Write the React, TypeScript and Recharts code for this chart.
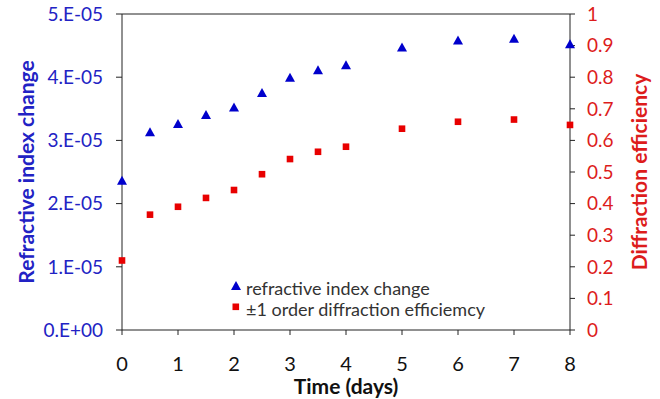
import { ScatterChart, Scatter, XAxis, YAxis, ReferenceLine, Legend } from 'recharts';

const days = [0, 0.5, 1, 1.5, 2, 2.5, 3, 3.5, 4, 5, 6, 7, 8];
const refractiveIndex = [2.36e-5, 3.13e-5, 3.26e-5, 3.4e-5, 3.52e-5, 3.75e-5, 3.99e-5, 4.11e-5, 4.19e-5, 4.47e-5, 4.58e-5, 4.61e-5, 4.52e-5];
const diffractionEff = [0.22, 0.365, 0.39, 0.418, 0.443, 0.493, 0.541, 0.564, 0.58, 0.637, 0.659, 0.666, 0.649];

const xTicks = [0, 1, 2, 3, 4, 5, 6, 7, 8];
const leftTicks = [0, 1e-5, 2e-5, 3e-5, 4e-5, 5e-5];
const leftTickLabels = ['0.E+00', '1.E-05', '2.E-05', '3.E-05', '4.E-05', '5.E-05'];
const rightTicks = [0, 0.1, 0.2, 0.3, 0.4, 0.5, 0.6, 0.7, 0.8, 0.9, 1];
const rightTickLabels = ['0', '0.1', '0.2', '0.3', '0.4', '0.5', '0.6', '0.7', '0.8', '0.9', '1'];

const BLUE = '#0000cc';
const BLUE_TEXT = '#2222c4';
const RED = '#e80000';
const RED_TEXT = '#dd1c1c';
const FONT = 'Lato, "Open Sans", sans-serif';

const rows = days.map((t, i) => ({ t, ri: refractiveIndex[i], de: diffractionEff[i] }));

const Triangle = (p: any) => {
  const { cx, cy } = p;
  return <polygon points={`${cx},${cy - 5} ${cx + 5},${cy + 4} ${cx - 5},${cy + 4}`} fill={BLUE} />;
};

const Square = (p: any) => {
  const { cx, cy } = p;
  return <rect x={cx - 3.3} y={cy - 3.3} width={6.6} height={6.6} fill={RED} />;
};

const LegendBox = () => (
  <div style={{ fontFamily: FONT, fontSize: 18, color: '#333', lineHeight: '21px' }}>
    <div style={{ display: 'flex', alignItems: 'center' }}>
      <svg width={12} height={12} style={{ marginRight: 4, marginTop: -6 }}>
        <polygon points="6,1 11,10 1,10" fill={BLUE} />
      </svg>
      refractive index change
    </div>
    <div style={{ display: 'flex', alignItems: 'center' }}>
      <svg width={12} height={12} style={{ marginRight: 4, marginTop: -6 }}>
        <rect x={2.5} y={2.5} width={6.6} height={6.6} fill={RED} />
      </svg>
      ±1 order diffraction efficiemcy
    </div>
  </div>
);

export default function App() {
  return (
    <div style={{ position: 'absolute', left: 0, top: 0, width: 660, height: 399, background: '#fff' }}>
      <ScatterChart width={660} height={399} margin={{ top: 14, right: 0, bottom: 19, left: 0 }}>
        <XAxis
          type="number"
          dataKey="t"
          domain={[0, 8]}
          ticks={xTicks}
          interval={0}
          height={50}
          tickSize={5}
          tickMargin={22}
          stroke="#222"
          tick={{ fill: '#111', fontSize: 20, fontFamily: FONT }}
          label={{ value: 'Time (days)', position: 'insideBottom', offset: -14, fill: '#111', fontSize: 21, fontWeight: 700, fontFamily: FONT }}
        />
        <YAxis
          yAxisId="left"
          type="number"
          dataKey="ri"
          domain={[0, 5e-5]}
          ticks={leftTicks}
          interval={0}
          width={122}
          tickSize={6}
          tickMargin={13}
          stroke="#222"
          tickFormatter={(v: number) => leftTickLabels[leftTicks.indexOf(v)]}
          tick={{ fill: BLUE_TEXT, fontSize: 19, fontFamily: FONT }}
          label={{
            content: ({ viewBox }: any) => {
              const x = viewBox.x + 25;
              const y = viewBox.y + viewBox.height / 2;
              return (
                <text x={x} y={y} transform={`rotate(-90 ${x} ${y})`} textAnchor="middle" dominantBaseline="central" fill={BLUE_TEXT} fontSize={21} fontWeight={700} fontFamily={FONT}>
                  Refractive index change
                </text>
              );
            },
          }}
        />
        <YAxis
          yAxisId="right"
          orientation="right"
          type="number"
          dataKey="de"
          domain={[0, 1]}
          ticks={rightTicks}
          interval={0}
          width={90}
          tickSize={5}
          tickMargin={12}
          stroke="#222"
          tickFormatter={(v: number) => rightTickLabels[rightTicks.indexOf(v)]}
          tick={{ fill: RED_TEXT, fontSize: 19, fontFamily: FONT }}
          label={{
            content: ({ viewBox }: any) => {
              const x = viewBox.x + 68;
              const y = viewBox.y + viewBox.height / 2;
              return (
                <text x={x} y={y} transform={`rotate(-90 ${x} ${y})`} textAnchor="middle" dominantBaseline="central" fill={RED_TEXT} fontSize={21} fontWeight={700} fontFamily={FONT}>
                  Diffraction efficiency
                </text>
              );
            },
          }}
        />
        <ReferenceLine yAxisId="left" y={5e-5} stroke="#222" />
        <Legend
          layout="vertical"
          align="center"
          verticalAlign="middle"
          content={<LegendBox />}
          wrapperStyle={{ position: 'absolute', left: 230, top: 278, width: 300 }}
        />
        <Scatter yAxisId="left" data={rows} dataKey="ri" shape={<Triangle />} isAnimationActive={false} />
        <Scatter yAxisId="right" data={rows} dataKey="de" shape={<Square />} isAnimationActive={false} />
      </ScatterChart>
    </div>
  );
}
